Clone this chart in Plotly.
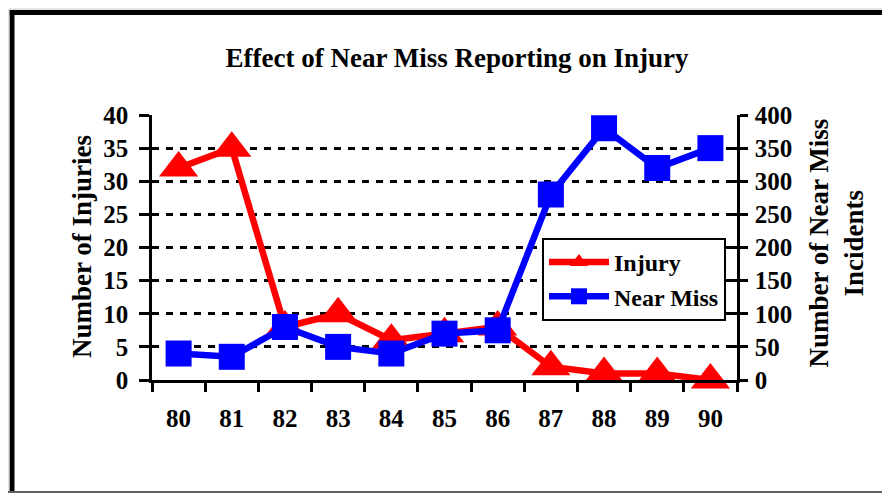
import plotly.graph_objects as go

years = ["80", "81", "82", "83", "84", "85", "86", "87", "88", "89", "90"]
injuries = [32, 35, 8, 10, 6, 7, 8, 2, 1, 1, 0]
near_miss = [40, 35, 80, 50, 40, 70, 75, 280, 380, 320, 350]

title_text = "Effect of Near Miss Reporting on Injury"
left_title = "Number of Injuries"
right_title = "Number of Near Miss<br>Incidents"

FONT = "Liberation Serif"

# page body has an 8px margin: figure is drawn at (8, 8)
OFF = 8
W, H = 890 - OFF, 493 - OFF
L, T = 152 - OFF, 115 - OFF
R = W - (737 - OFF)
B = H - (380 - OFF)
pw, ph = W - L - R, H - T - B

def px_x(px):  # page pixel -> paper
    return (px - OFF - L) / pw

def px_y(py):
    return (H - B - (py - OFF)) / ph

fig = go.Figure()
fig.add_trace(go.Scatter(
    x=years, y=injuries, name="Injury", mode="lines+markers",
    line=dict(color="#ff0000", width=6.5),
    marker=dict(symbol="triangle-up", size=34, color="#ff0000"),
    yaxis="y", cliponaxis=False,
))
fig.add_trace(go.Scatter(
    x=years, y=near_miss, name="Near Miss", mode="lines+markers",
    line=dict(color="#0000ff", width=6.5),
    marker=dict(symbol="square", size=26, color="#0000ff"),
    yaxis="y2", cliponaxis=False,
))

tickfont = dict(family=FONT, size=25, color="black", weight="bold")

fig.update_layout(
    width=W, height=H,
    margin=dict(l=L, r=R, t=T, b=B),
    paper_bgcolor="white", plot_bgcolor="white",
    title=dict(text=title_text, x=(457 - OFF) / W, xanchor="center", xref="container",
               y=1 - (58 - OFF) / H, yanchor="middle", yref="container",
               font=dict(family=FONT, size=27, color="black", weight="bold")),
    xaxis=dict(type="category", range=[-0.5, 10.5], showgrid=False,
               showline=True, linecolor="black", linewidth=2.5,
               ticks="outside", ticklen=9, tickwidth=2.5, tickcolor="black",
               tickson="boundaries", tickfont=tickfont, ticklabelstandoff=14,
               zeroline=False),
    yaxis=dict(range=[0, 40], dtick=5, showgrid=True, gridcolor="black",
               gridwidth=2.5, griddash="7px,7px", showline=True, linecolor="black",
               linewidth=2.5, ticks="outside", ticklen=10, tickwidth=2.5,
               tickcolor="black", tickfont=tickfont, ticklabelstandoff=6,
               zeroline=False),
    yaxis2=dict(range=[0, 400], dtick=50, overlaying="y", side="right",
                showgrid=False, showline=True, linecolor="black", linewidth=2.5,
                ticks="outside", ticklen=8, tickwidth=2.5, tickcolor="black",
                tickfont=tickfont, ticklabelstandoff=2, zeroline=False),
    yaxis3=dict(range=[0, 400], dtick=50, overlaying="y", side="right",
                showgrid=False, showline=False, ticks="inside", ticklen=8,
                tickwidth=2.5, tickcolor="black", showticklabels=False,
                zeroline=False),
    legend=dict(x=px_x(542), y=px_y(238), xanchor="left", yanchor="top",
                bgcolor="white", bordercolor="black", borderwidth=2,
                font=dict(family=FONT, size=24, color="black", weight="bold"),
                itemwidth=60, tracegroupgap=0),
    showlegend=True,
)

# invisible trace so the tick-only axis is drawn
fig.add_trace(go.Scatter(x=[years[0]], y=[0], yaxis="y3", showlegend=False,
                         mode="markers", marker=dict(opacity=0), hoverinfo="skip"))

fig.add_annotation(text=left_title, textangle=-90, x=px_x(82), y=px_y(247),
                   xref="paper", yref="paper", showarrow=False,
                   xanchor="center", yanchor="middle",
                   font=dict(family=FONT, size=27, color="black", weight="bold"))
fig.add_annotation(text=right_title, textangle=-90, x=px_x(835.5), y=px_y(243),
                   xref="paper", yref="paper", showarrow=False,
                   xanchor="center", yanchor="middle",
                   font=dict(family=FONT, size=27, color="black", weight="bold"))

# frame lines
fig.add_shape(type="line", xref="paper", yref="paper",
              x0=px_x(12), x1=px_x(12), y0=px_y(500), y1=px_y(10),
              line=dict(color="black", width=5))
fig.add_shape(type="line", xref="paper", yref="paper",
              x0=px_x(9.5), x1=px_x(900), y0=px_y(12.5), y1=px_y(12.5),
              line=dict(color="black", width=5))
fig.add_shape(type="line", xref="paper", yref="paper",
              x0=px_x(9), x1=px_x(900), y0=px_y(9), y1=px_y(9),
              line=dict(color="#c8c8c8", width=1))
fig.add_shape(type="line", xref="paper", yref="paper",
              x0=px_x(9), x1=px_x(9), y0=px_y(500), y1=px_y(9),
              line=dict(color="#c8c8c8", width=1))
fig.add_shape(type="line", xref="paper", yref="paper",
              x0=px_x(0), x1=px_x(900), y0=px_y(492), y1=px_y(492),
              line=dict(color="#606060", width=2))

fig.write_html("out.html")
